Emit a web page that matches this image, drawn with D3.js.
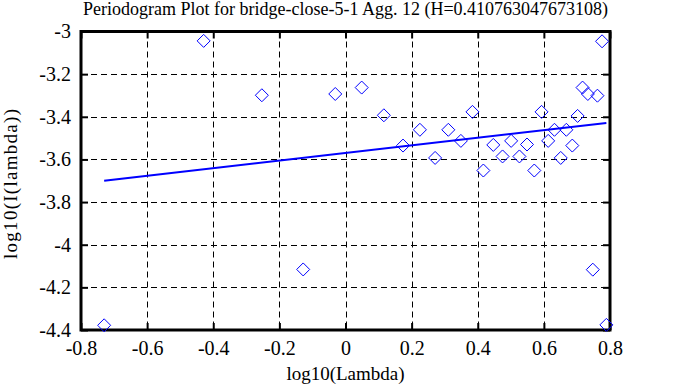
<!DOCTYPE html>
<html><head><meta charset="utf-8">
<script src="https://cdn.jsdelivr.net/npm/d3@7"></script>
<style>body{margin:0;background:#fff}svg{display:block}</style>
</head><body>
<script>
const titleText = "Periodogram Plot for bridge-close-5-1 Agg. 12 (H=0.410763047673108)";
const xLabel = "log10(Lambda)";
const yLabel = "log10(I(lambda))";
const xTicks = [-0.8,-0.6,-0.4,-0.2,0,0.2,0.4,0.6,0.8];
const yTicks = [-3,-3.2,-3.4,-3.6,-3.8,-4,-4.2,-4.4];
const logLambda = [-0.730,-0.429,-0.253,-0.128,-0.031,0.049,0.116,0.174,0.225,0.271,0.311,0.349,0.384,0.417,0.447,0.475,0.501,0.526,0.549,0.571,0.593,0.613,0.632,0.651,0.668,0.686,0.702,0.717,0.733,0.748,0.762,0.776,0.789];
const logI = [-4.378,-3.044,-3.299,-4.116,-3.293,-3.263,-3.393,-3.535,-3.461,-3.593,-3.461,-3.513,-3.377,-3.652,-3.532,-3.586,-3.513,-3.586,-3.530,-3.652,-3.377,-3.513,-3.461,-3.593,-3.461,-3.535,-3.396,-3.263,-3.293,-4.117,-3.301,-3.046,-4.376];
const fitX = [-0.730, 0.789];
const fitY = [-3.700, -3.429];

const FONT = "'Liberation Serif', 'Times New Roman', serif";
const W = 688, H = 387;
const m = {left:81, right:610, top:31.5, bottom:330};
const svg = d3.select("body").append("svg").attr("width",W).attr("height",H)
  .style("font-family",FONT);
const x = d3.scaleLinear().domain([-0.8,0.8]).range([m.left,m.right]);
const y = d3.scaleLinear().domain([-4.4,-3]).range([m.bottom,m.top]);
const fmt = d => String(+d.toFixed(1));

// grid
const g = svg.append("g");
g.selectAll(".vg").data(xTicks.slice(1,-1)).join("line")
  .attr("x1",d=>Math.round(x(d))+0.5).attr("x2",d=>Math.round(x(d))+0.5)
  .attr("y1",m.top).attr("y2",m.bottom)
  .attr("stroke","#000").attr("stroke-width",1).attr("stroke-dasharray","6,4");
g.selectAll(".hg").data(yTicks.slice(1,-1)).join("line")
  .attr("y1",d=>Math.round(y(d))+0.5).attr("y2",d=>Math.round(y(d))+0.5)
  .attr("x1",m.left).attr("x2",m.right)
  .attr("stroke","#000").attr("stroke-width",1).attr("stroke-dasharray","6,4");

// axes via d3
const tl = 7;
const fix = s => {
  s.attr("font-family",null).attr("font-size",null);
  s.select(".domain").remove();
  s.selectAll("line").attr("stroke-width",2);
  s.selectAll("text").style("font-family",FONT).style("font-size","20px").attr("fill","#000");
};
svg.append("g").attr("transform",`translate(0,${m.bottom})`)
  .call(d3.axisBottom(x).tickValues(xTicks).tickSize(-tl).tickPadding(11).tickFormat(fmt)).call(fix);
svg.append("g").attr("transform",`translate(0,${m.top})`)
  .call(d3.axisTop(x).tickValues(xTicks).tickSize(-tl).tickFormat("")).call(fix);
svg.append("g").attr("transform",`translate(${m.left},0)`)
  .call(d3.axisLeft(y).tickValues(yTicks).tickSize(-tl).tickPadding(10).tickFormat(fmt)).call(fix);
svg.append("g").attr("transform",`translate(${m.right},0)`)
  .call(d3.axisRight(y).tickValues(yTicks).tickSize(-tl).tickFormat("")).call(fix);

// frame
svg.append("rect").attr("x",m.left).attr("y",m.top).attr("width",m.right-m.left).attr("height",m.bottom-m.top)
  .attr("fill","none").attr("stroke","#000").attr("stroke-width",3);

// fit line
svg.append("path").datum(fitX.map((v,i)=>[v,fitY[i]]))
  .attr("d",d3.line().x(d=>x(d[0])).y(d=>y(d[1])))
  .attr("stroke","#0000ff").attr("stroke-width",2).attr("fill","none");

// points
const r = 6.5;
svg.append("g").selectAll("path").data(logLambda.map((v,i)=>[v,logI[i]])).join("path")
  .attr("d",d=>{const cx=x(d[0]), cy=y(d[1]); return `M${cx},${cy-r}L${cx+r},${cy}L${cx},${cy+r}L${cx-r},${cy}Z`;})
  .attr("fill","none").attr("stroke","#0000ff").attr("stroke-width",1);

// titles
const lab = (s,sz) => s.style("font-family",FONT).style("font-size",sz+"px").attr("fill","#000").attr("text-anchor","middle");
svg.append("text").attr("x",(m.left+m.right)/2).attr("y",15).call(lab,18).text(titleText);
svg.append("text").attr("x",(m.left+m.right)/2).attr("y",380).call(lab,19).attr("textLength",118).attr("lengthAdjust","spacing").text(xLabel);
svg.append("text").attr("transform",`translate(17,184) rotate(-90)`).call(lab,19).attr("textLength",150).attr("lengthAdjust","spacing").text(yLabel);
</script>
</body></html>
